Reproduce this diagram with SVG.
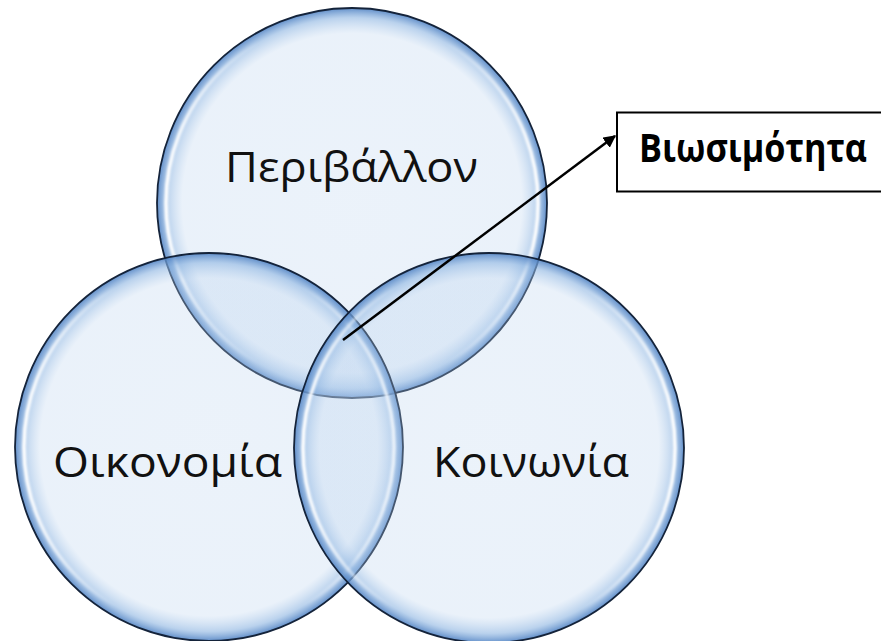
<svg xmlns="http://www.w3.org/2000/svg" width="881" height="641" viewBox="0 0 881 641">
<defs>
<radialGradient id="bubble" cx="0.5" cy="0.5" r="0.5">
<stop offset="0" stop-color="rgb(185,210,238)" stop-opacity="0.28"/>
<stop offset="0.87" stop-color="rgb(185,210,238)" stop-opacity="0.3"/>
<stop offset="0.95" stop-color="rgb(140,180,225)" stop-opacity="0.6"/>
<stop offset="1" stop-color="rgb(80,130,195)" stop-opacity="0.9"/>
</radialGradient>
<linearGradient id="shine" x1="0" y1="0" x2="1" y2="0">
<stop offset="0" stop-color="#fff" stop-opacity="1"/>
<stop offset="0.25" stop-color="#fff" stop-opacity="0"/>
<stop offset="0.75" stop-color="#fff" stop-opacity="0"/>
<stop offset="1" stop-color="#fff" stop-opacity="1"/>
</linearGradient>
<filter id="blur" x="-10%" y="-10%" width="120%" height="120%">
<feGaussianBlur stdDeviation="1.2"/>
</filter>
<marker id="arrow" viewBox="0 0 10 10" refX="9" refY="5" markerWidth="5" markerHeight="5" orient="auto" markerUnits="strokeWidth">
<path d="M0,0 L10,5 L0,10 z" fill="#000"/>
</marker>
</defs>
<style>
.bubble{fill:url(#bubble);stroke:#14233a;stroke-width:1.8}
.shine{fill:none;stroke:url(#shine);stroke-width:3.5;filter:url(#blur)}
.lbl{font-family:"Open Sans","Noto Sans","DejaVu Sans",sans-serif;font-size:42px;fill:#111}
.boxfill{fill:#fff}
.boxedge{fill:none;stroke:#000;stroke-width:2}
.boxlbl{font-family:"Open Sans","Noto Sans","DejaVu Sans",sans-serif;font-size:40px;font-weight:bold;fill:#000}
.conn{stroke:#000;stroke-width:2.5;fill:none}
</style>
<rect width="881" height="641" fill="#fff"/>
<g id="node-perivallon">
<circle class="bubble" cx="352" cy="203" r="195"/>
<circle class="shine" cx="352" cy="203" r="186"/>
<text class="lbl" x="225" y="182" textLength="253" lengthAdjust="spacingAndGlyphs">Περιβάλλον</text>
</g>
<g id="node-oikonomia">
<circle class="bubble" cx="209" cy="447" r="194"/>
<circle class="shine" cx="209" cy="447" r="185"/>
<text class="lbl" x="53" y="477" textLength="229" lengthAdjust="spacingAndGlyphs">Οικονομία</text>
</g>
<g id="node-koinonia">
<circle class="bubble" cx="489" cy="448" r="195"/>
<circle class="shine" cx="489" cy="448" r="186"/>
<text class="lbl" x="433" y="477" textLength="196" lengthAdjust="spacingAndGlyphs">Κοινωνία</text>
</g>
<g id="node-viosimotita">
<rect class="boxfill" x="617" y="112.5" width="264" height="79"/>
<path class="boxedge" d="M881,112.5 H617 V191.5 H881"/>
<text class="boxlbl" x="639" y="162" textLength="228" lengthAdjust="spacingAndGlyphs">Βιωσιμότητα</text>
</g>
<g id="connectors">
<line class="conn" x1="343" y1="340" x2="615" y2="136" marker-end="url(#arrow)"/>
</g>
</svg>
